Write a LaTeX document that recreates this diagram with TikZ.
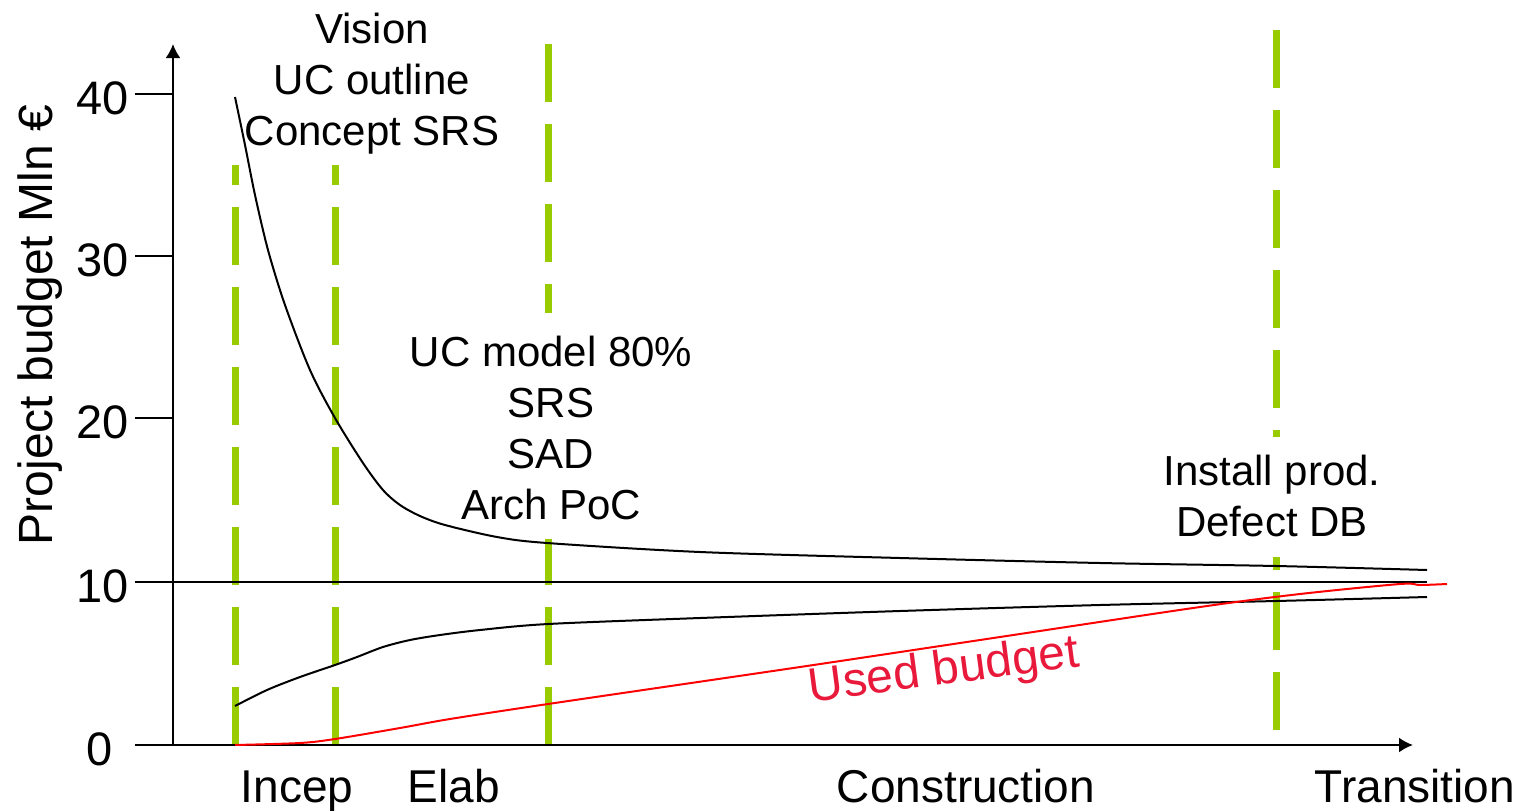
\documentclass[tikz,border=0pt]{standalone}
\usepackage{fontspec}
\setmainfont{Liberation Sans}
\usetikzlibrary{arrows.meta}
\tikzset{>={Latex[width=7.5pt,length=7pt]}}
\definecolor{phasegreen}{HTML}{99CC00}
\definecolor{usedred}{HTML}{E8193A}

\tikzset{
  phase/.style={draw=phasegreen, line width=3.5pt, dash pattern=on 29pt off 11pt},
  curve/.style={line width=1pt},
  note/.style={align=center, inner sep=0pt, font=\fontsize{21}{25.5}\selectfont},
  ticklabel/.style={anchor=base east, inner sep=0pt, font=\fontsize{23.5}{28}\selectfont},
  phaselabel/.style={anchor=base, inner sep=0pt, font=\fontsize{23}{28}\selectfont},
}

\begin{document}
\begin{tikzpicture}[x=0.5pt,y=-0.5pt]
  \useasboundingbox (0,0) rectangle (1523,810);

  %% phase borders (under the curves)
  \draw[phase] (235,745) -- (235,165);
  \draw[phase] (335,745) -- (335,165);
  \draw[phase] (548,44) -- (548,313);
  \draw[phase] (548,745) -- (548,539);
  \draw[phase] (1276,30) -- (1276,437);
  \draw[phase] (1276,730) -- (1276,557);

  %% axes
  \coordinate (origin) at (173,745);
  \coordinate (ytop) at (173,44);
  \coordinate (xleft) at (135,745);
  \coordinate (xright) at (1413,745);
  \draw[->, line width=1pt] (origin) -- (ytop);
  \draw[->, line width=1pt] (xleft) -- (xright);

  \foreach \val/\ypos in {40/94, 30/256, 20/418}{
    \draw[line width=1pt] (135,\ypos) -- (173,\ypos);
    \node[ticklabel] (tick\val) at (129,\ypos+20) {\val};
  }
  \node[ticklabel] (tick10) at (129,602) {10};
  \node[ticklabel] (tick0) at (113,765) {0};

  %% budget line at 10
  \coordinate (tenleft) at (135,582);
  \coordinate (tenright) at (1427,582);
  \draw[curve] (tenleft) -- (tenright);

  %% upper and lower estimate
  \draw[curve] plot[smooth] coordinates {(235,97) (245,145) (255,195) (268,250)
    (285,305) (310,370) (335,418) (363,463) (383,490) (400,505) (420,516)
    (445,525) (497,537) (547,543) (700,552) (900,558) (1100,563) (1276,566)
    (1427,570)};
  \draw[curve] plot[smooth] coordinates {(235,706) (267,690) (300,677) (335,665)
    (357,657) (383,647) (410,640) (440,635) (480,630) (548,624) (700,618)
    (900,611) (1100,605) (1276,601) (1427,597)};

  %% used budget
  \draw[curve, red] plot[smooth] coordinates {(235,745) (300,743) (335,739)
    (400,728) (450,719) (548,704) (800,667) (1000,637) (1200,607) (1300,594)
    (1400,584) (1420,585) (1447,584)};
  \node[rotate=7.5, text=usedred, inner sep=0pt, font=\fontsize{24}{28}\selectfont]
    (used) at (944,672) {Used budget};

  %% texts
  \node[rotate=90, inner sep=0pt, font=\fontsize{24}{28}\selectfont]
    (ylabel) at (40,325) {Project budget Mln €};

  \node[note] (visionnote) at (372,84) {Vision\\UC outline\\Concept SRS};
  \node[note] (elabnote) at (551,428) {UC model 80\%\\SRS\\SAD\\Arch PoC};
  \node[note] (constrnote) at (1272,496) {Install prod.\\Defect DB};

  \node[phaselabel] (incep) at (297,802) {Incep};
  \node[phaselabel] (elab) at (454,802) {Elab};
  \node[phaselabel] (constr) at (966,802) {Construction};
  \node[phaselabel] (trans) at (1415,802) {Transition};

\end{tikzpicture}
\end{document}
